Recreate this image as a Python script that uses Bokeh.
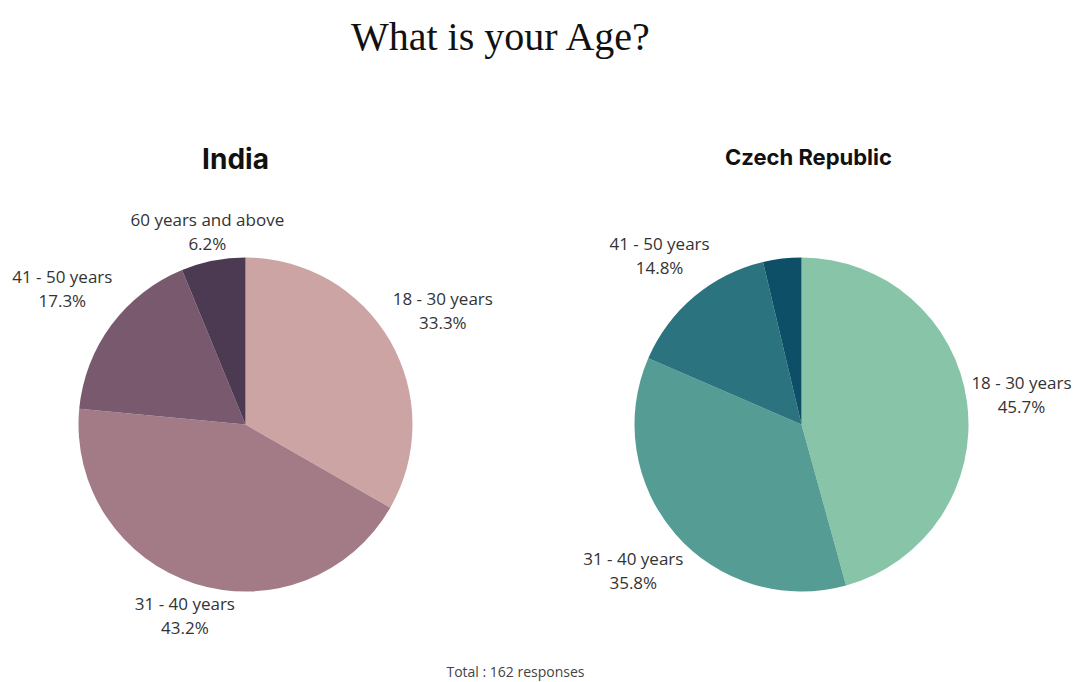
import math
from bokeh.plotting import figure
from bokeh.models import Range1d, ColumnDataSource
from bokeh.core.properties import value
from bokeh.embed import file_html
from bokeh.resources import INLINE

# ---- data ----
categories = ["18 - 30 years", "31 - 40 years", "41 - 50 years", "60 years and above"]
india_pct = [33.3, 43.2, 17.3, 6.2]
czech_pct = [45.7, 35.8, 14.8, 3.7]
czech_show_label = [True, True, True, False]
india_colors = ["#CDA4A4", "#A27B87", "#78596D", "#4B3A52"]
czech_colors = ["#88C4A7", "#559C94", "#2C7380", "#0D4F66"]
title_text = "What is your Age?"
india_title = "India"
czech_title = "Czech Republic"
footer_text = "Total : 162 responses"

W, H = 1079, 682
p = figure(width=W, height=H, output_backend="svg", toolbar_location=None,
           x_range=Range1d(0, W), y_range=Range1d(0, H),
           min_border=0, outline_line_color=None)
p.axis.visible = False
p.grid.visible = False
p.background_fill_color = "white"
p.border_fill_color = "white"

label_font = value("Open Sans")


def add_pie(cx, cy, r, pcts, colors, label_dist, show):
    total = sum(pcts)
    starts, ends, mids = [], [], []
    c = 0.0
    for v in pcts:
        c0 = c / total
        c += v
        c1 = c / total
        starts.append(math.pi / 2 - 2 * math.pi * c0)
        ends.append(math.pi / 2 - 2 * math.pi * c1)
        mids.append(2 * math.pi * (c0 + c1) / 2)
    src = ColumnDataSource(dict(x=[cx] * len(pcts), y=[cy] * len(pcts),
                                start=starts, end=ends, color=colors))
    p.wedge(x="x", y="y", radius=r, radius_units="screen", start_angle="start",
            end_angle="end", direction="clock", fill_color="color",
            line_color=None, source=src)
    lx, ly, names, vals = [], [], [], []
    for i, m in enumerate(mids):
        if not show[i]:
            continue
        d = label_dist[i]
        lx.append(cx + d * math.sin(m))
        ly.append(cy + d * math.cos(m))
        names.append(categories[i])
        vals.append(f"{pcts[i]:.1f}%")
    lsrc = ColumnDataSource(dict(x=lx, y=ly, n=names, v=vals))
    p.text(x="x", y="y", text="n", source=lsrc, text_align="center",
           text_baseline="middle", y_offset=-12, text_font=label_font,
           text_font_size="17px", text_color="#333333")
    p.text(x="x", y="y", text="v", source=lsrc, text_align="center",
           text_baseline="middle", y_offset=12, text_font=label_font,
           text_font_size="17px", text_color="#333333")


add_pie(245, H - 424, 167, india_pct, india_colors, [228, 200, 228, 197],
        [True] * 4)
add_pie(801, H - 424, 167, czech_pct, czech_colors, [222, 223, 221, 200],
        czech_show_label)

p.text(x=[501], y=[H - 36], text=[title_text], text_align="center",
       text_baseline="middle", text_font=value("Liberation Serif"),
       text_font_size="40px", text_color="#111111")
p.text(x=[235], y=[H - 158], text=[india_title], text_align="center",
       text_baseline="middle", text_font=value("Inter"), text_font_style="bold",
       text_font_size="28px", text_color="#111111")
p.text(x=[808], y=[H - 156], text=[czech_title], text_align="center",
       text_baseline="middle", text_font=value("Inter"), text_font_style="bold",
       text_font_size="22px", text_color="#111111")
p.text(x=[515], y=[H - 671], text=[footer_text], text_align="center",
       text_baseline="middle", text_font=value("Open Sans"),
       text_font_size="14px", text_color="#444444")

open("out.html", "w").write(file_html(p, INLINE))
